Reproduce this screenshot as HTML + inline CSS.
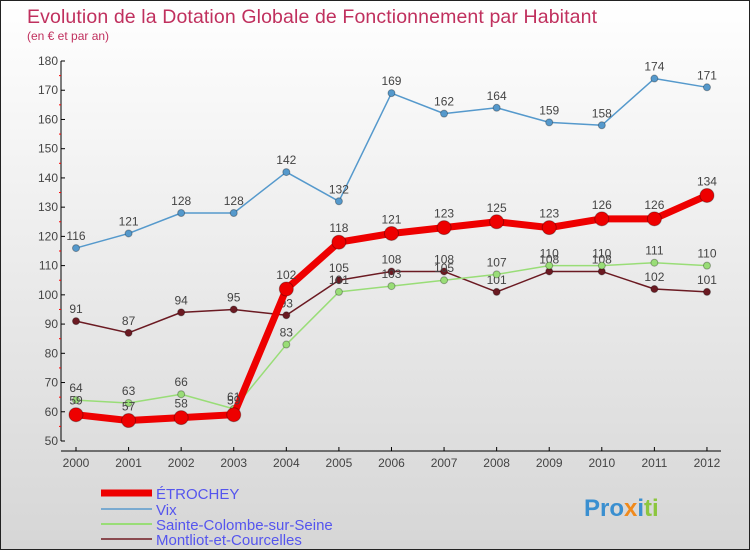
<!DOCTYPE html>
<html><head><meta charset="utf-8"><style>
body{margin:0}
#c{width:750px;height:550px;position:relative;overflow:hidden;box-sizing:border-box;border:1px solid #222;background:linear-gradient(#ffffff,#d6d6d6);font-family:"Liberation Sans",sans-serif}
</style></head><body>
<div id="c">
<svg id="s" width="750" height="550" style="position:absolute;left:0;top:0">
<text x="26" y="22" font-size="19.5" fill="#c0305e" textLength="570">Evolution de la Dotation Globale de Fonctionnement par Habitant</text>
<text x="26" y="39" font-size="12" fill="#c0305e">(en € et par an)</text>
<g id="axes"></g><g id="series"></g><g id="legend"></g>
<text x="583" y="515" font-size="24" font-weight="bold"><tspan fill="#3a8fd0">Pro</tspan><tspan fill="#f08a1c">x</tspan><tspan fill="#3a8fd0">i</tspan><tspan fill="#8cc63f">ti</tspan></text>
</svg>
</div>
<script>
const years=[2000,2001,2002,2003,2004,2005,2006,2007,2008,2009,2010,2011,2012];
const etrochey=[59,57,58,59,102,118,121,123,125,123,126,126,134];
const vix=[116,121,128,128,142,132,169,162,164,159,158,174,171];
const sainte=[64,63,66,61,83,101,103,105,107,110,110,111,110];
const montliot=[91,87,94,95,93,105,108,108,101,108,108,102,101];
const yTicks=[50,60,70,80,90,100,110,120,130,140,150,160,170,180];
const NS="http://www.w3.org/2000/svg";
const X=i=>75+i*52.58, Y=v=>440-(v-50)*380/130;
function mk(p,t,a){const e=document.createElementNS(NS,t);for(const k in a)e.setAttribute(k,a[k]);p.appendChild(e);return e;}
const ax=document.getElementById('axes');
let e=mk(ax,'line',{x1:60,y1:Y(180),x2:60,y2:Y(50),stroke:'#000'});


e=mk(ax,'line',{x1:60,y1:450,x2:720,y2:450,stroke:'#000'});


yTicks.forEach(v=>{
 mk(ax,'line',{x1:60,y1:Y(v),x2:64,y2:Y(v),stroke:'#000'});
 if(v<180) mk(ax,'line',{x1:58,y1:Y(v+5),x2:60,y2:Y(v+5),stroke:'#f00'});
 const t=mk(ax,'text',{x:57,y:Y(v)+4,'font-size':12,fill:'#444','text-anchor':'end'});t.textContent=v;
 
 
});
years.forEach((y,i)=>{
 mk(ax,'line',{x1:X(i),y1:446,x2:X(i),y2:450,stroke:'#000'});
 const t=mk(ax,'text',{x:X(i),y:466,'font-size':12,fill:'#444','text-anchor':'middle'});t.textContent=y;
 
 
});
const sg=document.getElementById('series');
function draw(vals,color,w,r,name,dy){
 const g=mk(sg,'g',{});
 
 
 mk(g,'polyline',{points:vals.map((v,i)=>X(i)+','+Y(v)).join(' '),fill:'none',stroke:color,'stroke-width':w,'stroke-linejoin':'round'});
 vals.forEach((v,i)=>{
  const c=mk(g,'circle',{cx:X(i),cy:Y(v),r:r,fill:color,stroke:'rgba(0,0,0,0.3)','stroke-width':1});
  
  
  const t=mk(g,'text',{x:X(i),y:Y(v)+dy,'font-size':12,fill:'#444','text-anchor':'middle'});t.textContent=v;
  
  
 });
}
draw(montliot,'#6b1a22',1.5,3.5,'montliot',-8);
draw(sainte,'#99dd77',1.5,3.5,'sainte-colombe',-8);
draw(vix,'#5599cc',1.5,3.5,'vix',-8);
draw(etrochey,'#ee0000',7,7,'etrochey',-10);
const lg=document.getElementById('legend');
[['ÉTROCHEY','#ee0000',7,492],['Vix','#7aaad0',2,508],['Sainte-Colombe-sur-Seine','#99dd77',2,523],['Montliot-et-Courcelles','#8a4a50',2,538]].forEach(d=>{
 const g=mk(lg,'g',{});
 
 
 mk(g,'line',{x1:100,y1:d[3],x2:151,y2:d[3],stroke:d[1],'stroke-width':d[2]});
 const t=mk(g,'text',{x:155,y:d[3]+6,'font-size':15,fill:'#5555ee'});t.textContent=d[0];
});
</script>
</body></html>
